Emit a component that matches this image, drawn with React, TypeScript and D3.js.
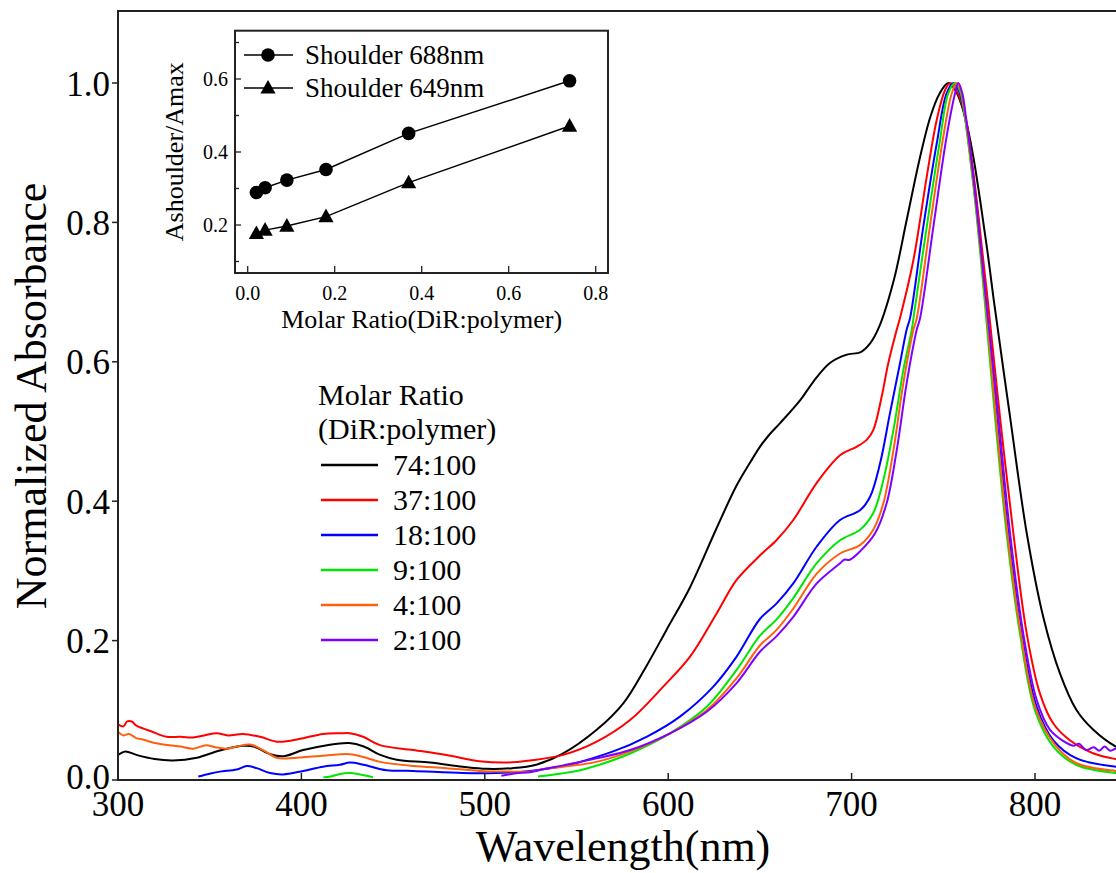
import React from "react";
import * as d3 from "d3";

type Pt = [number, number | null];

// Molar ratio 74:100
const s74: Pt[] = [
  [300, 0.036], [304, 0.041], [310, 0.036], [320, 0.030], [330, 0.028], [343, 0.032], [355, 0.042],
  [368, 0.049], [374, 0.048], [383, 0.037], [390, 0.034], [401, 0.043], [414, 0.050], [426, 0.053],
  [434, 0.048], [443, 0.036], [452, 0.029], [470, 0.025], [488, 0.019], [501, 0.016], [515, 0.017],
  [528, 0.022], [542, 0.037], [561, 0.072], [575.5, 0.110], [588, 0.163], [599, 0.215], [612, 0.277],
  [626, 0.359], [637, 0.421], [645, 0.457], [650, 0.478], [655, 0.495], [661, 0.512], [672, 0.545],
  [679, 0.571], [688, 0.598], [697, 0.610], [705, 0.614], [710, 0.626], [715, 0.650], [723, 0.717],
  [730, 0.803], [737, 0.890], [743, 0.952], [748, 0.985], [752.7, 1.0], [756.5, 0.99], [760, 0.968],
  [763.3, 0.935], [766.5, 0.892], [770.3, 0.828], [774, 0.76], [777.5, 0.689], [786.4, 0.521],
  [795.5, 0.354], [804.5, 0.234], [813.6, 0.153], [822.7, 0.100], [831.8, 0.072], [844, 0.048], [850, 0.042],
];
// 37:100
const s37: Pt[] = [
  [300, 0.080], [303, 0.077], [305, 0.084], [307.5, 0.084], [310, 0.078], [313.6, 0.074], [318, 0.070],
  [326.5, 0.062], [334, 0.062], [341, 0.061], [347, 0.064], [353.8, 0.067], [360, 0.064], [368, 0.066],
  [377.4, 0.062], [386.5, 0.055], [393, 0.056], [401, 0.060], [411.8, 0.066], [421, 0.067], [426.5, 0.067],
  [433.6, 0.062], [442.9, 0.050], [461, 0.043], [479, 0.036], [497, 0.027], [512, 0.025], [524.6, 0.028],
  [542.8, 0.036], [561, 0.055], [579.2, 0.086], [597.3, 0.134], [611.9, 0.177], [626.4, 0.239],
  [637.3, 0.287], [650, 0.322], [659, 0.344], [668.2, 0.373], [680.9, 0.426], [693.7, 0.466],
  [702.7, 0.478], [708.2, 0.488], [711.8, 0.502], [716.4, 0.550], [720, 0.598], [724.6, 0.646],
  [726.4, 0.663], [733.7, 0.746], [741, 0.866], [746.4, 0.947], [751, 0.990], [753.7, 1.0],
  [757.4, 0.988], [762.2, 0.95], [764.8, 0.904], [768.2, 0.832], [771.2, 0.76], [774.2, 0.689],
  [780.9, 0.521], [788.2, 0.354], [795.5, 0.210], [802.7, 0.124], [810, 0.081], [819, 0.057],
  [832, 0.038], [844, 0.030], [850, 0.028],
];
// 18:100
const s18: Pt[] = [
  [343.8, 0.005], [350, 0.009], [355.6, 0.012], [364.7, 0.015], [370.2, 0.020], [375.6, 0.017],
  [382.9, 0.010], [390.1, 0.008], [401, 0.013], [411.8, 0.019], [421, 0.022], [426.5, 0.025],
  [433.8, 0.022], [446.5, 0.014], [461, 0.013], [488, 0.010], [506, 0.010], [524.6, 0.013],
  [542.8, 0.020], [570, 0.041], [588.2, 0.062], [606.4, 0.091], [624.6, 0.134], [637.3, 0.177],
  [650, 0.231], [659, 0.253], [668.2, 0.282], [681, 0.335], [693.7, 0.373], [704.6, 0.387],
  [710, 0.406], [715.5, 0.454], [720.9, 0.526], [726.4, 0.598], [730, 0.646], [731.9, 0.663],
  [739.1, 0.794], [746.4, 0.913], [751.8, 0.985], [755.5, 1.0], [758.6, 0.988], [761.9, 0.95],
  [764.3, 0.904], [767.5, 0.832], [770.3, 0.76], [773, 0.689], [779.1, 0.521], [785.5, 0.354],
  [792.7, 0.210], [800.9, 0.105], [810, 0.057], [822.7, 0.031], [844, 0.019], [850, 0.018],
];
// 9:100
const s9: Pt[] = [
  [412, 0.004], [416, 0.005], [420, 0.008], [426.5, 0.010], [432, 0.008], [439, 0.004], [440, null],
  [529, 0.005], [541, 0.009], [551.9, 0.014], [565, 0.024], [579.2, 0.038], [601, 0.067], [621, 0.105],
  [637.3, 0.158], [650, 0.207], [659, 0.230], [668.2, 0.261], [681, 0.311], [693.7, 0.344],
  [704.6, 0.359], [711.8, 0.383], [717.3, 0.430], [722.8, 0.502], [728.2, 0.588], [732.8, 0.646],
  [733.7, 0.662], [741, 0.794], [748.2, 0.918], [752.7, 0.985], [756.4, 1.0], [759.2, 0.988],
  [761.8, 0.95], [764.1, 0.904], [767.3, 0.832], [770, 0.76], [772.5, 0.689], [778.2, 0.521],
  [784.5, 0.354], [791.8, 0.210], [800, 0.100], [810, 0.048], [822.7, 0.0215], [844, 0.010], [850, 0.009],
];
// 4:100
const s4: Pt[] = [
  [300, 0.069], [303, 0.064], [306, 0.066], [310, 0.060], [313.6, 0.058], [320, 0.053], [328, 0.050],
  [334, 0.048], [341, 0.045], [348, 0.050], [353, 0.047], [359, 0.045], [365, 0.048], [372, 0.051],
  [379, 0.043], [386.5, 0.032], [392, 0.031], [397.4, 0.032], [408, 0.034], [421, 0.037], [426.5, 0.037],
  [433.8, 0.033], [442.9, 0.026], [461, 0.020], [479, 0.017], [497, 0.013], [515, 0.012], [524.6, 0.012],
  [533, 0.016], [542.8, 0.019], [561, 0.026], [579.2, 0.041], [601, 0.067], [621, 0.100], [637.3, 0.146],
  [650, 0.193], [659, 0.215], [668.2, 0.246], [681, 0.296], [693.7, 0.325], [704.6, 0.337],
  [711.8, 0.359], [717.3, 0.397], [722.8, 0.473], [728.2, 0.569], [733.7, 0.646], [735.5, 0.662],
  [742.7, 0.794], [750, 0.923], [754.6, 0.985], [757.3, 1.0], [759.8, 0.987], [762.1, 0.95],
  [764.4, 0.904], [767.6, 0.832], [770.4, 0.76], [773, 0.689], [778.7, 0.521], [785, 0.354],
  [792.3, 0.210], [800.5, 0.102], [811, 0.050], [822.7, 0.024], [844, 0.013], [850, 0.012],
];
// 2:100
const s2: Pt[] = [
  [509, 0.006], [513, 0.008], [518, 0.010], [524.6, 0.011], [533, 0.016], [542.8, 0.021], [561, 0.031],
  [579.2, 0.043], [601, 0.067], [621, 0.098], [637.3, 0.139], [650, 0.184], [659, 0.206], [668.2, 0.234],
  [681, 0.282], [693.7, 0.311], [696, 0.316], [699, 0.316], [704.6, 0.328], [712.8, 0.354],
  [719.1, 0.397], [724.6, 0.473], [730, 0.569], [735.5, 0.646], [737.3, 0.662], [744.6, 0.794],
  [751.8, 0.923], [756.4, 0.985], [758.2, 1.0], [760.4, 0.985], [762.4, 0.95], [764.7, 0.904],
  [767.8, 0.832], [770.6, 0.76], [773.3, 0.689], [780, 0.521], [786.4, 0.354], [793.6, 0.210],
  [800.9, 0.115], [808.2, 0.072], [817.3, 0.053], [821, 0.049], [824, 0.052], [828, 0.043],
  [832, 0.047], [835, 0.042], [838, 0.048], [841, 0.042], [845, 0.046], [850, 0.043],
];

const seriesNames = ["74:100", "37:100", "18:100", "9:100", "4:100", "2:100"];
const seriesData = [s74, s37, s18, s9, s4, s2];
const seriesColors = ["#000000", "#ff0000", "#0000ff", "#00e600", "#ff6010", "#8000ff"];

const xTicks = [300, 400, 500, 600, 700, 800];
const yTicks = [0, 0.2, 0.4, 0.6, 0.8, 1.0];

// Inset data
const insetRatio = [0.02, 0.04, 0.09, 0.18, 0.37, 0.74];
const shoulder688 = [0.289, 0.302, 0.323, 0.352, 0.451, 0.595];
const shoulder649 = [0.177, 0.186, 0.197, 0.223, 0.316, 0.471];
const insetXTicks = [0, 0.2, 0.4, 0.6, 0.8];
const insetYTicks = [0.2, 0.4, 0.6];
const insetYMinor = [0.1, 0.3, 0.5, 0.7];

const FONT = "'Liberation Serif', 'Times New Roman', serif";

export default function App() {
  const W = 1116, H = 873;
  const x = d3.scaleLinear().domain([300, 850]).range([118, 1126.7]);
  const y = d3.scaleLinear().domain([0, 1.1033]).range([780, 11]);
  const line = d3
    .line<Pt>()
    .defined((d) => d[1] != null)
    .x((d) => x(d[0]))
    .y((d) => y(d[1] as number))
    .curve(d3.curveCatmullRom.alpha(0.5));

  const ix = d3.scaleLinear().domain([-0.0292, 0.8283]).range([235, 608]);
  const iy = d3.scaleLinear().domain([0.0685, 0.7323]).range([273, 30.7]);
  const iline = d3
    .line<number>()
    .x((_, i) => ix(insetRatio[i]))
    .y((d) => iy(d));

  const tri = (cx: number, cy: number, s = 8) =>
    `M${cx},${cy - s} L${cx + s * 0.95},${cy + s * 0.7} L${cx - s * 0.95},${cy + s * 0.7} Z`;

  const left = x(300), bottom = y(0), top = 11;

  return (
    <svg width={W} height={H} style={{ position: "absolute", left: 0, top: 0, background: "#fff" }} fontFamily={FONT}>
      <defs>
        <clipPath id="plotclip">
          <rect x={left} y={top} width={W - left} height={bottom - top} />
        </clipPath>
      </defs>
      <rect x={0} y={0} width={W} height={H} fill="#fff" />

      {/* curves */}
      <g clipPath="url(#plotclip)">
        {seriesData.map((d, i) => (
          <path key={i} d={line(d) || ""} fill="none" stroke={seriesColors[i]} strokeWidth={2} strokeLinejoin="round" />
        ))}
      </g>

      {/* axes frame */}
      <line x1={left} y1={top} x2={left} y2={bottom} stroke="#222" strokeWidth={2} />
      <line x1={left - 1} y1={bottom} x2={W} y2={bottom} stroke="#222" strokeWidth={2} />
      <line x1={left - 1} y1={top} x2={W} y2={top} stroke="#222" strokeWidth={2} />

      {/* x ticks */}
      {xTicks.map((t) => (
        <g key={t}>
          <line x1={x(t)} x2={x(t)} y1={bottom} y2={bottom - 7} stroke="#222" strokeWidth={1.5} />
          <text x={x(t)} y={816} fontSize={35} textAnchor="middle" fill="#000">
            {t}
          </text>
        </g>
      ))}
      {/* y ticks */}
      {yTicks.map((t) => (
        <g key={t}>
          <line x1={left - 6} x2={left} y1={y(t)} y2={y(t)} stroke="#222" strokeWidth={1.5} />
          <text x={110} y={y(t) - (t === 0 ? 4 : 0)} dy="0.36em" fontSize={35} textAnchor="end" fill="#000">
            {t.toFixed(1)}
          </text>
        </g>
      ))}

      <text x={623} y={861} fontSize={44} textAnchor="middle" fill="#000">
        Wavelength(nm)
      </text>
      <text transform={`translate(46,396) rotate(-90)`} fontSize={44} textAnchor="middle" fill="#000">
        Normalized Absorbance
      </text>

      {/* main legend */}
      <text x={318} y={405} fontSize={30} fill="#000">Molar Ratio</text>
      <text x={318} y={439} fontSize={30} fill="#000">(DiR:polymer)</text>
      {seriesNames.map((n, i) => {
        const ly = 465 + i * 35;
        return (
          <g key={n}>
            <line x1={321} x2={378} y1={ly} y2={ly} stroke={seriesColors[i]} strokeWidth={2.5} />
            <text x={393} y={ly + 10} fontSize={30} fill="#000">
              {n}
            </text>
          </g>
        );
      })}

      {/* inset */}
      <rect x={235} y={30.7} width={373} height={242.3} fill="#fff" stroke="#222" strokeWidth={2} />
      {insetXTicks.map((t) => (
        <g key={t}>
          <line x1={ix(t)} x2={ix(t)} y1={273} y2={266} stroke="#222" strokeWidth={1.3} />
          <text x={ix(t)} y={300} fontSize={20} textAnchor="middle" fill="#000">
            {t.toFixed(1)}
          </text>
        </g>
      ))}
      {insetYTicks.map((t) => (
        <g key={t}>
          <line x1={235} x2={241} y1={iy(t)} y2={iy(t)} stroke="#222" strokeWidth={1.3} />
          <text x={228} y={iy(t)} dy="0.36em" fontSize={20} textAnchor="end" fill="#000">
            {t.toFixed(1)}
          </text>
        </g>
      ))}
      {insetYMinor.map((t) => (
        <line key={t} x1={235} x2={239} y1={iy(t)} y2={iy(t)} stroke="#222" strokeWidth={1.3} />
      ))}
      <text x={421.7} y={328} fontSize={26} textAnchor="middle" fill="#000">
        Molar Ratio(DiR:polymer)
      </text>
      <text transform={`translate(183,151.7) rotate(-90)`} fontSize={26} textAnchor="middle" fill="#000">
        Ashoulder/Amax
      </text>

      <path d={iline(shoulder688) || ""} fill="none" stroke="#000" strokeWidth={1.5} />
      <path d={iline(shoulder649) || ""} fill="none" stroke="#000" strokeWidth={1.5} />
      {shoulder688.map((v, i) => (
        <circle key={"c" + i} cx={ix(insetRatio[i])} cy={iy(v)} r={6.8} fill="#000" />
      ))}
      {shoulder649.map((v, i) => (
        <path key={"t" + i} d={tri(ix(insetRatio[i]), iy(v))} fill="#000" />
      ))}

      {/* inset legend */}
      <line x1={244} x2={293} y1={55} y2={55} stroke="#000" strokeWidth={1.5} />
      <circle cx={268} cy={55} r={6.8} fill="#000" />
      <text x={305} y={64} fontSize={27} fill="#000">Shoulder 688nm</text>
      <line x1={244} x2={293} y1={88} y2={88} stroke="#000" strokeWidth={1.5} />
      <path d={tri(268, 88)} fill="#000" />
      <text x={305} y={97} fontSize={27} fill="#000">Shoulder 649nm</text>
    </svg>
  );
}
